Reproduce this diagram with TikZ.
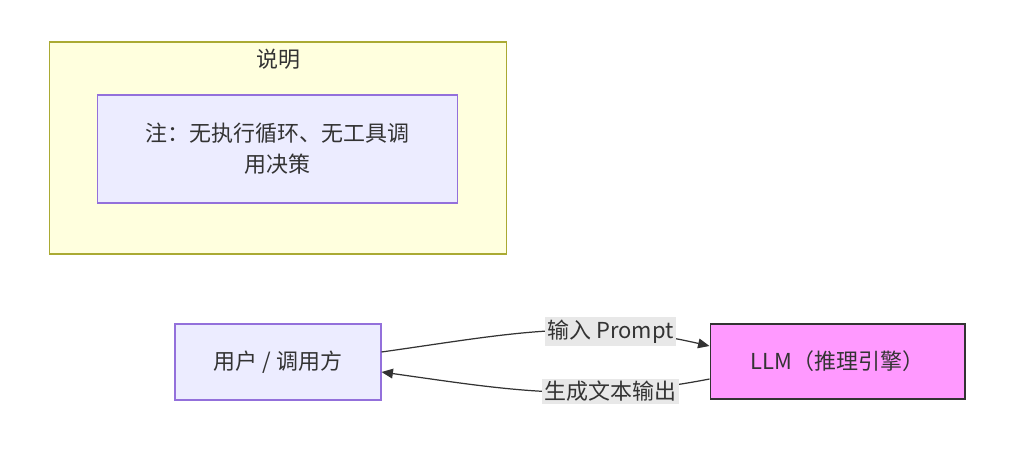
\documentclass[tikz,border=0pt]{standalone}
\usepackage{fontspec}
\setmainfont{Noto Sans CJK SC}
\usetikzlibrary{arrows.meta, positioning}
\definecolor{noteYellow}{HTML}{FFFFDE}
\definecolor{noteBorder}{HTML}{AAAA33}
\definecolor{nodeLilac}{HTML}{ECECFF}
\definecolor{nodeBorder}{HTML}{9370DB}
\definecolor{llmPink}{HTML}{FF99FF}
\definecolor{inkGray}{HTML}{333333}
\definecolor{labelGray}{HTML}{E8E8E8}

\begin{document}
\begin{tikzpicture}[
    x=0.02cm, y=-0.02cm,
    font=\fontsize{12.5}{17.5}\selectfont, text=inkGray,
    cluster/.style={rectangle, draw=noteBorder, fill=noteYellow, line width=0.6pt, minimum width=9.16cm, minimum height=4.24cm},
    box/.style={rectangle, draw=nodeBorder, fill=nodeLilac, line width=0.6pt, align=center},
    engine/.style={rectangle, draw=inkGray, fill=llmPink, line width=0.6pt, align=center},
    arrow/.style={-{Triangle[length=6.5pt, width=5.5pt]}, draw=inkGray, line width=0.7pt},
    label/.style={fill=labelGray, inner sep=1.5pt}
]
    \useasboundingbox (0,0) rectangle (1011,450);

    % Explanation cluster
    \node[cluster] (note) at (278,148) {};
    \node (notetitle) at (278,59) {说明};
    \node[box, minimum width=7.22cm, minimum height=2.16cm] (remark) at (277.5,149) {注：无执行循环、无工具调\\用决策};

    % Caller and model
    \node[box, minimum width=4.12cm, minimum height=1.52cm] (user) at (278,362) {用户 / 调用方};
    \node[engine, minimum width=5.1cm, minimum height=1.5cm] (llm) at (837.5,361.5) {LLM（推理引擎）};

    % Arrows
    \draw[arrow] ([yshift=0.2cm]user.east) to[out=8, in=167]
        node[pos=0.71, label] {输入 Prompt} ([yshift=0.31cm]llm.west);
    \draw[arrow] ([yshift=-0.35cm]llm.west) to[out=191, in=-8]
        node[pos=0.29, label] {生成文本输出} ([yshift=-0.2cm]user.east);
\end{tikzpicture}
\end{document}
